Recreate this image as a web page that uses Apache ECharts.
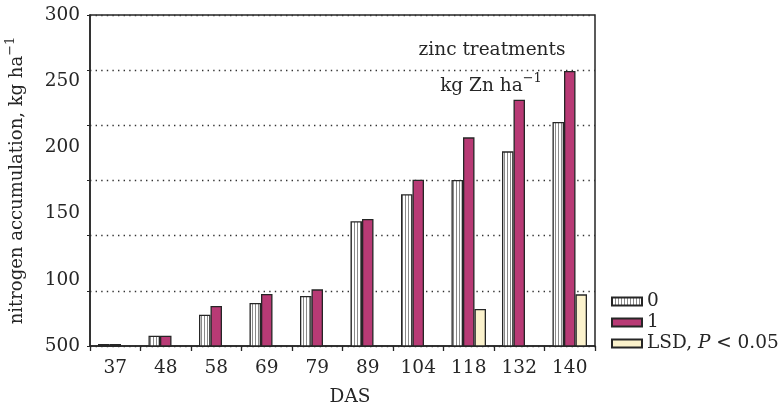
<!DOCTYPE html>
<html>
<head>
<meta charset="utf-8">
<script src="https://cdn.jsdelivr.net/npm/echarts@6/dist/echarts.min.js"></script>
<style>html,body{margin:0;padding:0;background:#fff}#c{width:783px;height:407px}</style>
</head>
<body>
<div id="c"></div>
<script>
const categories = ['37','48','58','69','79','89','104','118','132','140'];
const zinc0 = [51.5, 57.8, 73.6, 82.5, 87.8, 144.2, 164.6, 175.4, 197.0, 219.2];
const zinc1 = [51.5, 57.8, 80.2, 89.3, 92.8, 145.9, 175.6, 207.6, 236.0, 257.7];
const lsd   = [null, null, null, null, null, null, null, 77.9, null, 89.0];
const yTickLabels = {50:'500', 100:'100', 150:'150', 200:'200', 250:'250', 300:'300'};
const seriesNames = ['0', '1', 'LSD, P < 0.05'];

const FONT = '"DejaVu Serif", "Liberation Serif", serif';
const INK = '#262626';
const FS = 18.5;

const cv = document.createElement('canvas');
cv.width = 3; cv.height = 4;
const cx = cv.getContext('2d');
cx.fillStyle = '#ffffff'; cx.fillRect(0,0,3,4);
cx.fillStyle = '#8a8a8a'; cx.fillRect(0,0,1,4);

const chart = echarts.init(document.getElementById('c'), null, {renderer:'canvas'});
const barStyle = {borderColor: INK, borderWidth: 1.3};
chart.setOption({
  animation: false,
  backgroundColor: '#ffffff',
  grid: {left: 90, right: 188, top: 15, bottom: 61, containLabel: false, outerBoundsMode: 'none', show: true, borderColor: INK, borderWidth: 1.5, backgroundColor: 'transparent'},
  legend: {
    orient: 'vertical', left: 606, top: 287, itemWidth: 30, itemHeight: 8, itemGap: 2,
    icon: 'rect',
    formatter: function(n){ return n === seriesNames[2] ? '{a|LSD, }{i|P}{a| < 0.05}' : '{a|' + n + '}'; },
    textStyle: {fontFamily: FONT, fontSize: FS, color: INK, rich: {a:{fontFamily: FONT, fontSize: FS, color: INK}, i:{fontFamily: FONT, fontSize: FS, fontStyle:'italic', color: INK}}},
    data: seriesNames
  },
  xAxis: {
    type: 'category', data: categories,
    name: 'DAS', nameLocation: 'middle', nameGap: 42,
    nameTextStyle: {fontFamily: FONT, fontSize: FS, color: INK, padding: [0,0,0,15]},
    axisLine: {lineStyle: {color: INK, width: 1.5}},
    axisTick: {show: true, length: 5, lineStyle: {color: INK, width: 1.3}},
    axisLabel: {fontFamily: FONT, fontSize: FS, color: INK, margin: 13}
  },
  yAxis: [
    {
      type: 'value', min: 50, max: 300, interval: 50,
      name: '{a|nitrogen accumulation, kg ha}{s|−1}', nameLocation: 'middle', nameGap: 60, nameRotate: 90,
      nameTextStyle: {rich: {a:{fontFamily: FONT, fontSize: 18, color: INK, lineHeight: 26}, s:{fontFamily: FONT, fontSize: 13, color: INK, verticalAlign: 'top', lineHeight: 26}}},
      axisLine: {show: true, lineStyle: {color: INK, width: 1.5}},
      axisTick: {show: false},
      splitLine: {show: false},
      axisLabel: {fontFamily: FONT, fontSize: FS, color: INK, margin: 10, formatter: function(v){ return yTickLabels[v] || ''; }}
    },
    {
      type: 'value', min: 0, max: 6, interval: 1, position: 'left',
      axisLine: {show: false},
      axisTick: {show: true, length: 3, lineStyle: {color: INK}},
      axisLabel: {show: false},
      splitLine: {show: true, lineStyle: {color: '#333', width: 1.4, type: [1.4, 4.2]}}
    }
  ],
  graphic: [
    {type: 'text', x: 492, y: 50, style: {text: 'zinc treatments', font: FS + 'px ' + FONT, fill: INK, align: 'center', verticalAlign: 'middle'}},
    {type: 'text', x: 491, y: 86, style: {text: '{a|kg Zn ha}{s|−1}', align: 'center', verticalAlign: 'middle',
      rich: {a:{fontFamily: FONT, fontSize: FS, fill: INK, color: INK, lineHeight: 28}, s:{fontFamily: FONT, fontSize: 13, fill: INK, color: INK, verticalAlign: 'top', lineHeight: 28}}}}
  ],
  series: [
    {name: seriesNames[0], type: 'bar', data: zinc0, barWidth: 11.5, barGap: '0%', itemStyle: Object.assign({color: {image: cv, repeat: 'repeat'}}, barStyle)},
    {name: seriesNames[1], type: 'bar', data: zinc1, barWidth: 11.5, barGap: '0%', itemStyle: Object.assign({color: '#B83A75'}, barStyle)},
    {name: seriesNames[2], type: 'bar', data: lsd, barWidth: 11.5, barGap: '0%', itemStyle: Object.assign({color: '#FBF2CC'}, barStyle)}
  ]
});
</script>
</body>
</html>
